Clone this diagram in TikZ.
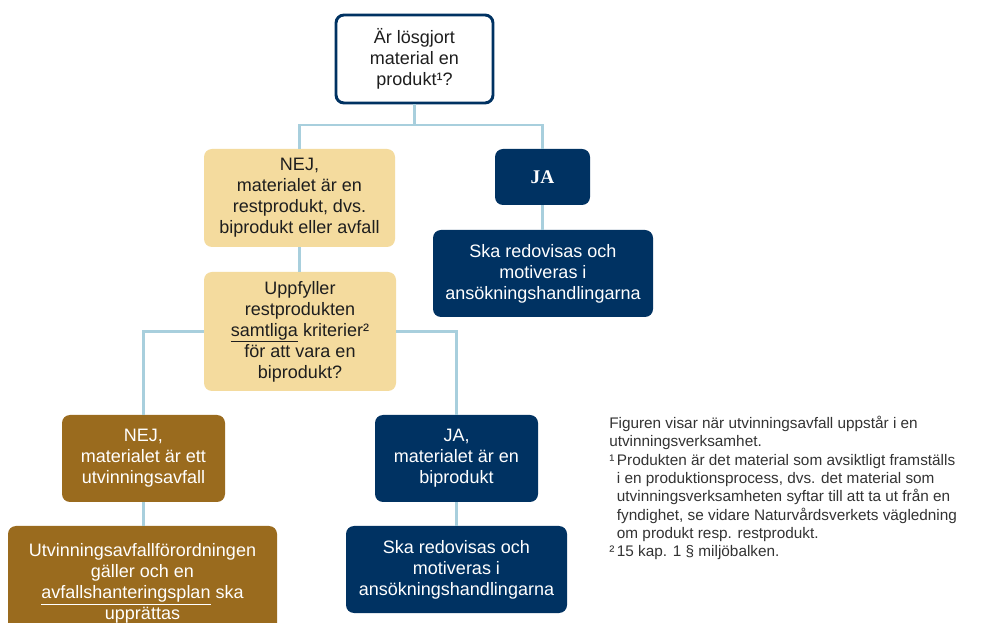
\documentclass[tikz,border=0pt]{standalone}
\usepackage{fontspec}
\setmainfont{Liberation Sans}
\newfontfamily\serifja{Liberation Serif}
\definecolor{navy}{HTML}{003262}
\definecolor{tan}{HTML}{F4DB9E}
\definecolor{brownbox}{HTML}{9A6B1E}
\definecolor{conn}{HTML}{A8CFDD}
\definecolor{darktext}{HTML}{1E1E1E}
\definecolor{notetext}{HTML}{333333}
\tikzset{
  box/.style={rounded corners=6pt, align=center, inner sep=2pt,
    font=\fontsize{13.5pt}{15.8pt}\selectfont},
  qbox/.style={box, draw=navy, line width=2.2pt, fill=white, text=darktext},
  tanbox/.style={box, fill=tan, text=darktext},
  navybox/.style={box, fill=navy, text=white},
  brbox/.style={box, fill=brownbox, text=white},
  link/.style={draw=conn, line width=2.2pt},
}
\begin{document}
\begin{tikzpicture}[x=0.75pt,y=-0.75pt]
\clip (0,0) rectangle (986,623);
\fill[white] (0,0) rectangle (986,623);

\node[qbox, minimum width=117.75pt, minimum height=66pt] (top) at (414.5,59)
  {Är lösgjort\\material en\\produkt¹?};
\node[tanbox, minimum width=143.25pt, minimum height=73.5pt] (nej) at (299.5,198)
  {NEJ,\\materialet är en\\restprodukt, dvs.\\biprodukt eller avfall};
\node[navybox, minimum width=71.25pt, minimum height=42pt] (ja) at (542.5,177)
  {\serifja\bfseries\fontsize{14.5pt}{16pt}\selectfont JA};
\node[navybox, minimum width=165pt, minimum height=65.25pt] (ska1) at (543,273.5)
  {Ska redovisas och\\motiveras i\\ansökningshandlingarna};
\node[tanbox, minimum width=144pt, minimum height=89.25pt] (upp) at (300,331.5)
  {Uppfyller\\restprodukten\\\underline{samtliga} kriterier²\\för att vara en\\biprodukt?};
\node[brbox, minimum width=122.25pt, minimum height=65.25pt] (bnej) at (143.5,458.5)
  {NEJ,\\materialet är ett\\utvinningsavfall};
\node[brbox, minimum width=201.75pt, minimum height=85.5pt] (butv) at (142.5,583)
  {Utvinningsavfallförordningen\\gäller och en\\\underline{avfallshanteringsplan} ska\\upprättas};
\node[navybox, minimum width=122.25pt, minimum height=65.25pt] (jab) at (456.5,458.5)
  {JA,\\materialet är en\\biprodukt};
\node[navybox, minimum width=165.75pt, minimum height=65.25pt] (ska2) at (456.5,569.5)
  {Ska redovisas och\\motiveras i\\ansökningshandlingarna};

\coordinate (j1) at (414.5,125);
\draw[link] (top.south) -- (j1);
\draw[link] (nej.north) |- (j1) -| (ja.north);
\draw[link] (ja.south) -- (ja.south |- ska1.north);
\draw[link] (nej.south) -- (nej.south |- upp.north);
\draw[link] (upp.west) -| (bnej.north);
\draw[link] (upp.east) -| (jab.north);
\draw[link] (bnej.south) -- (bnej.south |- butv.north);
\draw[link] (jab.south) -- (jab.south |- ska2.north);

\node[anchor=north west, inner sep=0pt, align=left, text=notetext,
  font=\fontsize{11.5pt}{13.75pt}\selectfont] (note) at (609,416)
  {Figuren visar när utvinningsavfall uppstår i en\\
   utvinningsverksamhet.\\
   ¹\,Produkten är det material som avsiktligt framställs\\
   \hphantom{¹\,}i en produktionsprocess, dvs. det material som\\
   \hphantom{¹\,}utvinningsverksamheten syftar till att ta ut från en\\
   \hphantom{¹\,}fyndighet, se vidare Naturvårdsverkets vägledning\\
   \hphantom{¹\,}om produkt resp. restprodukt.\\
   ²\,15 kap. 1 § miljöbalken.};
\end{tikzpicture}
\end{document}
